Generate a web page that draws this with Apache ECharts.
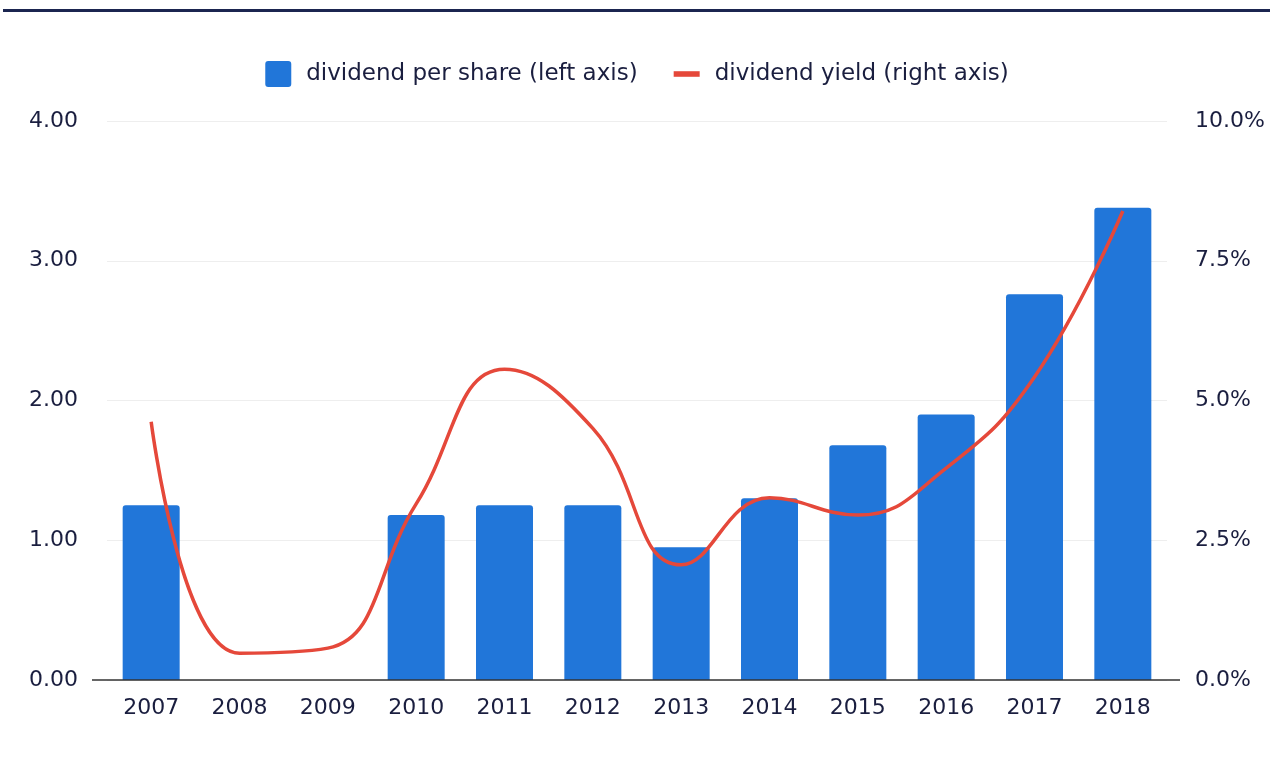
<!DOCTYPE html>
<html>
<head>
<meta charset="utf-8">
<script src="https://cdn.jsdelivr.net/npm/echarts@6/dist/echarts.min.js"></script>
<style>
  html, body { margin: 0; padding: 0; background: #ffffff; }
  #chart { width: 1274px; height: 769px; }
</style>
</head>
<body>
<div id="chart"></div>
<script>
// Annual dividend data
const years = ['2007', '2008', '2009', '2010', '2011', '2012', '2013', '2014', '2015', '2016', '2017', '2018'];
const dividendPerShare = [1.25, 0, 0, 1.18, 1.25, 1.25, 0.95, 1.30, 1.68, 1.90, 2.76, 3.38];
const dividendYield = [4.62, 0.48, 0.57, 3.15, 5.56, 4.50, 2.06, 3.26, 2.95, 3.79, 5.42, 8.39];
const leftTicks = { min: 0, max: 4, interval: 1 };
const rightTicks = { min: 0, max: 10, interval: 2.5 };

const textColor = '#1a1e3f';
const fontFamily = '"DejaVu Sans", Verdana, sans-serif';
const fontSize = 22;
const barColor = '#2176d9';
const lineColor = '#e5483a';

const chart = echarts.init(document.getElementById('chart'), null, { renderer: 'canvas' });

chart.setOption({
  animation: false,
  backgroundColor: '#ffffff',
  textStyle: { fontFamily: fontFamily, color: textColor },
  graphic: [
    // rule across the top of the panel
    { type: 'rect', left: 3, top: 9, shape: { width: 1267, height: 3 }, style: { fill: '#1b2550' } },
    // baseline runs a little past the plot area on both sides
    { type: 'line', shape: { x1: 92, y1: 680, x2: 1180, y2: 680 }, style: { stroke: '#333333', lineWidth: 1.5 }, z: 10 }
  ],
  legend: {
    left: 'center',
    top: 56,
    itemWidth: 26,
    itemHeight: 26,
    itemGap: 36,
    textStyle: { fontSize: 23, color: textColor, fontFamily: fontFamily, padding: [0, 0, 0, 10] },
    data: [
      { name: 'dividend per share (left axis)', icon: 'path://M3 0H23Q26 0 26 3V23Q26 26 23 26H3Q0 26 0 23V3Q0 0 3 0Z' },
      { name: 'dividend yield (right axis)', icon: 'path://M0 0H28V6H0Z' }
    ]
  },
  grid: { left: 107, right: 107, top: 121, bottom: 89 },
  xAxis: {
    type: 'category',
    data: years,
    axisLine: { show: false },
    axisTick: { show: false },
    axisLabel: { color: textColor, fontSize: fontSize, margin: 17, fontFamily: fontFamily }
  },
  yAxis: [
    {
      type: 'value',
      min: leftTicks.min, max: leftTicks.max, interval: leftTicks.interval,
      axisLine: { show: false },
      axisTick: { show: false },
      splitLine: { lineStyle: { color: '#eeeeee', width: 1 } },
      axisLabel: {
        color: textColor, fontSize: fontSize, margin: 29, fontFamily: fontFamily,
        formatter: v => v.toFixed(2)
      }
    },
    {
      type: 'value',
      min: rightTicks.min, max: rightTicks.max, interval: rightTicks.interval,
      axisLine: { show: false },
      axisTick: { show: false },
      splitLine: { show: false },
      axisLabel: {
        color: textColor, fontSize: fontSize, margin: 28, fontFamily: fontFamily,
        formatter: v => v.toFixed(1) + '%'
      }
    }
  ],
  series: [
    {
      name: 'dividend per share (left axis)',
      type: 'bar',
      yAxisIndex: 0,
      data: dividendPerShare,
      barWidth: 57,
      itemStyle: { color: barColor, borderRadius: [3, 3, 0, 0] }
    },
    {
      name: 'dividend yield (right axis)',
      type: 'line',
      yAxisIndex: 1,
      data: dividendYield,
      smooth: 0.45,
      symbol: 'none',
      lineStyle: { color: lineColor, width: 3.5 },
      itemStyle: { color: lineColor },
      z: 5
    }
  ]
});
</script>
</body>
</html>
